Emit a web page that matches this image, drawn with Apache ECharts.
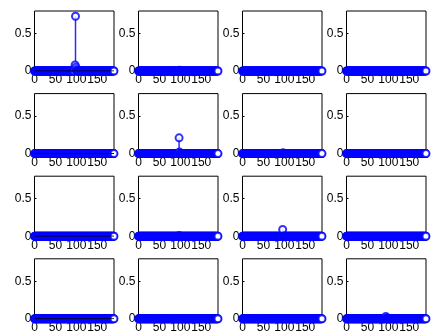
<!DOCTYPE html>
<html>
<head>
<meta charset="utf-8">
<script src="https://cdn.jsdelivr.net/npm/echarts@6/dist/echarts.min.js"></script>
<style>
html,body{margin:0;padding:0;background:#fff;}
#chart{width:432px;height:336px;}
</style>
</head>
<body>
<div id="chart"></div>
<script>
// ---- data ----
const sampleCount = 191;            // samples 0..190 on each panel
const xTicks = [0, 50, 100, 150];
const yTicks = [0, 0.5];
const xMax = 190;
const yMax = 0.8;
// non-zero samples per panel [index, value]; all other samples are ~0
const panel01 = [[96, 0.03], [97, 0.08], [98, 0.73], [99, 0.05], [100, 0.02]];
const panel02 = [[98, 0.01]];
const panel03 = [];
const panel04 = [];
const panel05 = [];
const panel06 = [[96, 0.01], [97, 0.21], [98, 0.02]];
const panel07 = [[97, 0.01]];
const panel08 = [];
const panel09 = [];
const panel10 = [[97, 0.01]];
const panel11 = [[95, 0.01], [96, 0.09]];
const panel12 = [];
const panel13 = [[97, 0.005]];
const panel14 = [[97, 0.005]];
const panel15 = [];
const panel16 = [[94, 0.03], [95, 0.01]];
const panels = [panel01, panel02, panel03, panel04, panel05, panel06, panel07, panel08,
                panel09, panel10, panel11, panel12, panel13, panel14, panel15, panel16];

// ---- build ----
const FONT = 'Liberation Sans, Arial, sans-serif';
const lefts = [34.5, 138.5, 242.5, 346.5];
const tops = [11, 93.6, 176.2, 258.8];
const W = 79.5, H = 60;
const BLUE = '#0000ff';
const STEM = '#2a2aff';

const grid = [], xAxis = [], yAxis = [], series = [];
panels.forEach((pk, k) => {
  const r = Math.floor(k / 4), c = k % 4;
  const lookup = {};
  pk.forEach(p => { lookup[p[0]] = p[1]; });
  const data = [];
  for (let i = 0; i < sampleCount; i++) data.push([i, lookup[i] !== undefined ? lookup[i] : 0]);

  grid.push({left: lefts[c], top: tops[r], width: W, height: H,
    show: true, borderColor: '#000', borderWidth: 1, backgroundColor: '#fff'});
  xAxis.push({type: 'value', gridIndex: k, min: 0, max: xMax, interval: 50,
    axisLine: {show: false},
    axisTick: {show: true, inside: true, length: 2, lineStyle: {color: '#000'}},
    splitLine: {show: false},
    axisLabel: {show: true, showMaxLabel: false, margin: 3, color: '#000', fontSize: 12, fontFamily: FONT,
      formatter: v => xTicks.indexOf(v) >= 0 ? String(v) : ''}});
  yAxis.push({type: 'value', gridIndex: k, min: 0, max: yMax, interval: 0.5,
    axisLine: {show: false},
    axisTick: {show: true, inside: true, length: 2, lineStyle: {color: '#000'}},
    splitLine: {show: false},
    axisLabel: {show: true, showMaxLabel: false, margin: 3, color: '#000', fontSize: 12, fontFamily: FONT,
      formatter: v => yTicks.indexOf(v) >= 0 ? String(v) : ''}});
  series.push({type: 'custom', xAxisIndex: k, yAxisIndex: k, data: data, z: 2, silent: true,
    itemStyle: {color: STEM},
    renderItem: (params, api) => {
      if (api.value(1) === 0) return null;
      const p0 = api.coord([api.value(0), 0]);
      const p1 = api.coord([api.value(0), api.value(1)]);
      return {type: 'rect', shape: {x: p0[0] - 0.75, y: p1[1], width: 1.5, height: p0[1] - p1[1]},
        style: {fill: STEM, stroke: null}};
    }});
  series.push({type: 'scatter', xAxisIndex: k, yAxisIndex: k, data: data, z: 3, silent: true,
    clip: false, symbol: 'emptyCircle', symbolSize: 7,
    itemStyle: {color: BLUE, borderColor: BLUE, borderWidth: 0.9}});
  if (c === 0) {
    // stem baseline drawn over the markers in the first column
    series.push({type: 'line', xAxisIndex: k, yAxisIndex: k, data: [[0, 0], [xMax, 0]], z: 4,
      silent: true, symbol: 'none', lineStyle: {color: '#000', width: 1}});
  }
});

const chart = echarts.init(document.getElementById('chart'), null, {renderer: 'canvas'});
chart.setOption({animation: false, backgroundColor: '#fff', grid, xAxis, yAxis, series});
</script>
</body>
</html>
